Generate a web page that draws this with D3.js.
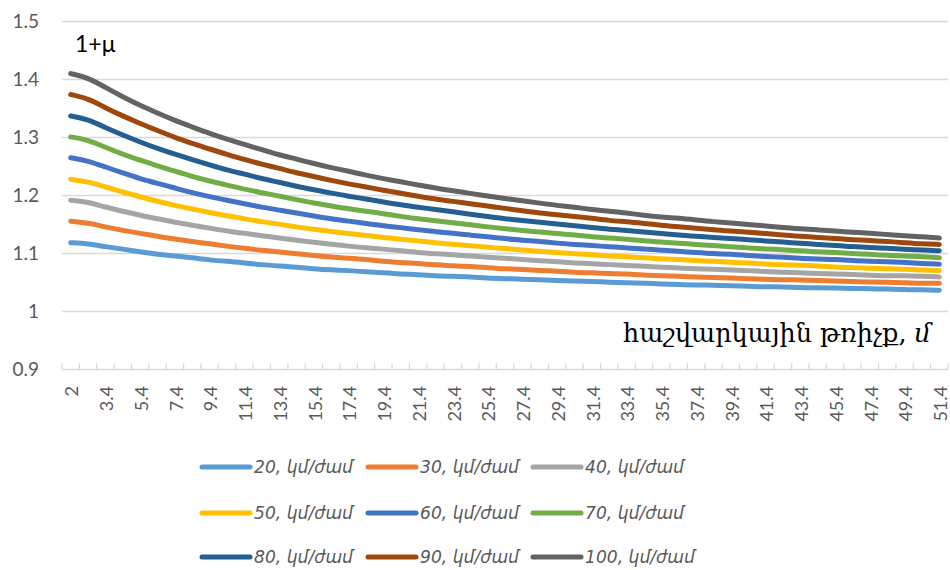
<!DOCTYPE html>
<html>
<head>
<meta charset="utf-8">
<script src="https://cdn.jsdelivr.net/npm/d3@7"></script>
<style>
html,body{margin:0;padding:0;background:#fff;}
svg{display:block;}
</style>
</head>
<body>
<svg id="chart" width="950" height="570"></svg>
<script>
// ---- data ----
const categories = ["2","2.4","3.4","4.4","5.4","6.4","7.4","8.4","9.4","10.4","11.4","12.4","13.4","14.4","15.4","16.4","17.4","18.4","19.4","20.4","21.4","22.4","23.4","24.4","25.4","26.4","27.4","28.4","29.4","30.4","31.4","32.4","33.4","34.4","35.4","36.4","37.4","38.4","39.4","40.4","41.4","42.4","43.4","44.4","45.4","46.4","47.4","48.4","49.4","50.4","51.4"];
const xTickLabels = ["2","3.4","5.4","7.4","9.4","11.4","13.4","15.4","17.4","19.4","21.4","23.4","25.4","27.4","29.4","31.4","33.4","35.4","37.4","39.4","41.4","43.4","45.4","47.4","49.4","51.4"];
const yTicks = [0.9,1.0,1.1,1.2,1.3,1.4,1.5];
const seriesNames = ["20, կմ/ժամ","30, կմ/ժամ","40, կմ/ժամ","50, կմ/ժամ","60, կմ/ժամ","70, կմ/ժամ","80, կմ/ժամ","90, կմ/ժամ","100, կմ/ժամ"];
const v20 = [1.118,1.116,1.111,1.107,1.102,1.098,1.095,1.092,1.088,1.086,1.083,1.080,1.078,1.076,1.073,1.071,1.070,1.068,1.066,1.064,1.063,1.061,1.060,1.059,1.057,1.056,1.055,1.054,1.053,1.052,1.051,1.050,1.049,1.048,1.047,1.046,1.045,1.045,1.044,1.043,1.042,1.042,1.041,1.040,1.040,1.039,1.039,1.038,1.037,1.037,1.036];
const v30 = [1.155,1.152,1.145,1.139,1.134,1.129,1.124,1.120,1.116,1.112,1.108,1.105,1.102,1.099,1.096,1.093,1.091,1.089,1.086,1.084,1.082,1.080,1.078,1.077,1.075,1.073,1.072,1.070,1.069,1.067,1.066,1.065,1.064,1.062,1.061,1.060,1.059,1.058,1.057,1.056,1.055,1.054,1.054,1.053,1.052,1.051,1.050,1.050,1.049,1.048,1.048];
const v40 = [1.191,1.188,1.179,1.172,1.165,1.159,1.153,1.148,1.143,1.138,1.134,1.130,1.126,1.122,1.119,1.115,1.112,1.109,1.107,1.104,1.101,1.099,1.097,1.095,1.093,1.091,1.089,1.087,1.085,1.083,1.082,1.080,1.079,1.077,1.076,1.074,1.073,1.072,1.071,1.070,1.068,1.067,1.066,1.065,1.064,1.063,1.062,1.061,1.061,1.060,1.059];
const v50 = [1.227,1.223,1.214,1.205,1.197,1.189,1.182,1.176,1.170,1.164,1.159,1.154,1.150,1.145,1.141,1.137,1.134,1.130,1.127,1.124,1.121,1.118,1.115,1.113,1.110,1.108,1.105,1.103,1.101,1.099,1.097,1.095,1.094,1.092,1.090,1.089,1.087,1.086,1.084,1.083,1.081,1.080,1.079,1.078,1.076,1.075,1.074,1.073,1.072,1.071,1.070];
const v60 = [1.264,1.259,1.248,1.238,1.228,1.220,1.212,1.204,1.197,1.191,1.185,1.179,1.174,1.169,1.164,1.159,1.155,1.151,1.147,1.144,1.140,1.137,1.134,1.131,1.128,1.125,1.122,1.120,1.117,1.115,1.113,1.111,1.109,1.107,1.105,1.103,1.101,1.099,1.098,1.096,1.094,1.093,1.091,1.090,1.089,1.087,1.086,1.085,1.084,1.082,1.081];
const v70 = [1.300,1.295,1.282,1.270,1.260,1.250,1.241,1.232,1.224,1.217,1.210,1.204,1.198,1.192,1.186,1.181,1.176,1.172,1.168,1.163,1.159,1.156,1.152,1.149,1.145,1.142,1.139,1.136,1.134,1.131,1.128,1.126,1.124,1.121,1.119,1.117,1.115,1.113,1.111,1.109,1.107,1.106,1.104,1.102,1.101,1.099,1.098,1.096,1.095,1.094,1.092];
const v80 = [1.336,1.330,1.316,1.303,1.291,1.280,1.270,1.261,1.252,1.243,1.236,1.228,1.222,1.215,1.209,1.203,1.198,1.193,1.188,1.183,1.179,1.175,1.171,1.167,1.163,1.159,1.156,1.153,1.150,1.147,1.144,1.141,1.139,1.136,1.134,1.131,1.129,1.127,1.125,1.123,1.121,1.119,1.117,1.115,1.113,1.111,1.110,1.108,1.107,1.105,1.104];
const v90 = [1.373,1.366,1.350,1.336,1.323,1.311,1.299,1.289,1.279,1.270,1.261,1.253,1.246,1.238,1.232,1.225,1.219,1.214,1.208,1.203,1.198,1.193,1.189,1.185,1.181,1.177,1.173,1.169,1.166,1.163,1.160,1.156,1.154,1.151,1.148,1.145,1.143,1.140,1.138,1.136,1.134,1.131,1.129,1.127,1.125,1.123,1.122,1.120,1.118,1.116,1.115];
const v100 = [1.409,1.402,1.385,1.369,1.354,1.341,1.328,1.317,1.306,1.296,1.287,1.278,1.269,1.262,1.254,1.247,1.241,1.234,1.228,1.223,1.217,1.212,1.207,1.203,1.198,1.194,1.190,1.186,1.182,1.179,1.175,1.172,1.169,1.165,1.162,1.160,1.157,1.154,1.152,1.149,1.147,1.144,1.142,1.140,1.138,1.136,1.134,1.132,1.130,1.128,1.126];
const seriesValues = [v20,v30,v40,v50,v60,v70,v80,v90,v100];
const colors = ["#5B9BD5","#ED7D31","#A5A5A5","#FFC000","#4472C4","#70AD47","#255E91","#9E480E","#636363"];

// ---- layout ----
const svg = d3.select("#chart");
const x = d3.scaleBand().domain(categories).range([62, 948]).paddingInner(0).paddingOuter(0);
const y = d3.scaleLinear().domain([0.9, 1.5]).range([369.3, 20.7]);
const bw = x.bandwidth();
const cx = c => x(c) + bw / 2;

// gridlines
svg.append("g").selectAll("line").data(yTicks).join("line")
  .attr("x1", 62).attr("x2", 948)
  .attr("y1", d => Math.round(y(d)) + 0.5).attr("y2", d => Math.round(y(d)) + 0.5)
  .attr("stroke", "#d9d9d9").attr("stroke-width", 1.3);

// x tick marks (between categories)
const boundaries = categories.map(c => x(c)).concat([x(categories[categories.length - 1]) + bw]);
svg.append("g").selectAll("line").data(boundaries).join("line")
  .attr("x1", d => d).attr("x2", d => d)
  .attr("y1", y(0.9) - 6).attr("y2", y(0.9))
  .attr("stroke", "#d9d9d9").attr("stroke-width", 1.3);

// y axis labels
const yAxis = d3.axisLeft(y).tickValues(yTicks).tickSize(0).tickFormat(d => d3.format("")(+d.toFixed(1)));
const gy = svg.append("g").attr("transform", "translate(39,0)").call(yAxis);
gy.select(".domain").remove();
gy.selectAll("text").attr("x", 0).attr("dy", "0.35em")
  .attr("font-family", "Lato, 'Open Sans', sans-serif").attr("font-size", 19).attr("fill", "#595959");

// x axis labels (rotated)
const xAxis = d3.axisBottom(x).tickValues(xTickLabels).tickSize(0);
const gx = svg.append("g").attr("transform", `translate(0,${386})`).call(xAxis);
gx.select(".domain").remove();
gx.selectAll("text")
  .attr("transform", "rotate(-90)")
  .attr("x", 0).attr("y", 1.5).attr("dy", "0.35em")
  .attr("text-anchor", "end")
  .attr("font-family", "Lato, 'Open Sans', sans-serif").attr("font-size", 18).attr("fill", "#595959");

// lines (smoothed)
const line = d3.line().x((d, i) => cx(categories[i])).y(d => y(d)).curve(d3.curveBasis);
svg.append("g").selectAll("path").data(seriesValues).join("path")
  .attr("d", d => line(d))
  .attr("fill", "none")
  .attr("stroke", (d, i) => colors[i])
  .attr("stroke-width", 5)
  .attr("stroke-linecap", "round")
  .attr("stroke-linejoin", "round");

// "1+μ" label
svg.append("text").attr("x", 75).attr("y", 52)
  .attr("font-family", "Lato, 'Open Sans', sans-serif").attr("font-size", 23).attr("fill", "#000")
  .text("1+μ");

// x axis title
const title = svg.append("text").attr("x", 931).attr("y", 342).attr("text-anchor", "end")
  .attr("font-family", "'DejaVu Serif', 'Liberation Serif', serif").attr("font-size", 20).attr("fill", "#000");
title.append("tspan").text("հաշվարկային թռիչք, ");
title.append("tspan").attr("font-style", "italic").text("մ");
{
  const w = title.node().getComputedTextLength();
  title.attr("font-size", 20 * 308 / w);
}

// legend
const legendCols = [202, 368, 533];
const legendRows = [467, 513, 557];
const lg = svg.append("g").selectAll("g").data(seriesNames).join("g")
  .attr("transform", (d, i) => `translate(${legendCols[i % 3]},${legendRows[Math.floor(i / 3)]})`);
lg.append("line").attr("x1", 0).attr("x2", 48).attr("y1", 0).attr("y2", 0)
  .attr("stroke", (d, i) => colors[i]).attr("stroke-width", 5).attr("stroke-linecap", "round");
const lt = lg.append("text").attr("x", 52).attr("y", 0).attr("dy", "0.35em")
  .attr("font-family", "'DejaVu Sans', sans-serif").attr("font-style", "italic")
  .attr("font-size", 16).attr("fill", "#595959").text(d => d);
{
  const w = lt.filter((d, i) => i === 8).node().getComputedTextLength();
  lt.attr("font-size", 16 * 110 / w);
}
</script>
</body>
</html>
